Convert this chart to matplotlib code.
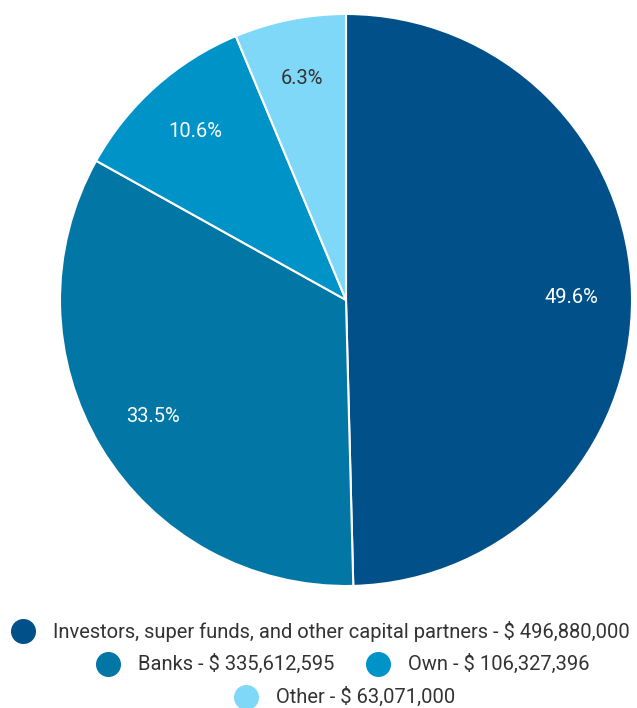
import matplotlib
matplotlib.use("Agg")
import matplotlib.pyplot as plt

plt.rcParams['font.family'] = ['Roboto', 'DejaVu Sans']

# Data
labels = ["Investors, super funds, and other capital partners", "Banks", "Own", "Other"]
values = [496880000, 335612595, 106327396, 63071000]
colors = ["#01508a", "#0277a6", "#0093c8", "#80d8f8"]
pct_colors = ["white", "white", "white", "#333333"]

W, H = 637, 708
fig = plt.figure(figsize=(W / 100, H / 100), dpi=100)

# Pie axes: center ~ (346, 300) px, radius ~ 286 px
cx, cy, r = 346, 300, 286
ax = fig.add_axes([(cx - r) / W, (H - cy - r) / H, 2 * r / W, 2 * r / H])
wedges, texts, autotexts = ax.pie(
    values, colors=colors, startangle=90, counterclock=False,
    autopct='%.1f%%', pctdistance=0.79,
    wedgeprops=dict(edgecolor="white", linewidth=1.5),
    textprops=dict(fontsize=14.5))
for t, c in zip(autotexts, pct_colors):
    t.set_color(c)
ax.set_xlim(-1, 1)
ax.set_ylim(-1, 1)
ax.set_aspect('equal')
ax.axis('off')

# Legend (custom rows)
lax = fig.add_axes([0, 0, 1, 1], zorder=-1)
lax.set_xlim(0, W)
lax.set_ylim(H, 0)
lax.axis('off')
rows = [(23, 631), (108, 664), (378, 664), (246, 697)]
for (x, y), lab, val, col in zip(rows, labels, values, colors):
    lax.plot(x, y, 'o', markersize=17, color=col)
    lax.text(x + 30, y, f"{lab} - $ {val:,}", fontsize=14.5, color="#333333",
             va='center', ha='left')

fig.savefig("out.png", dpi=100)
